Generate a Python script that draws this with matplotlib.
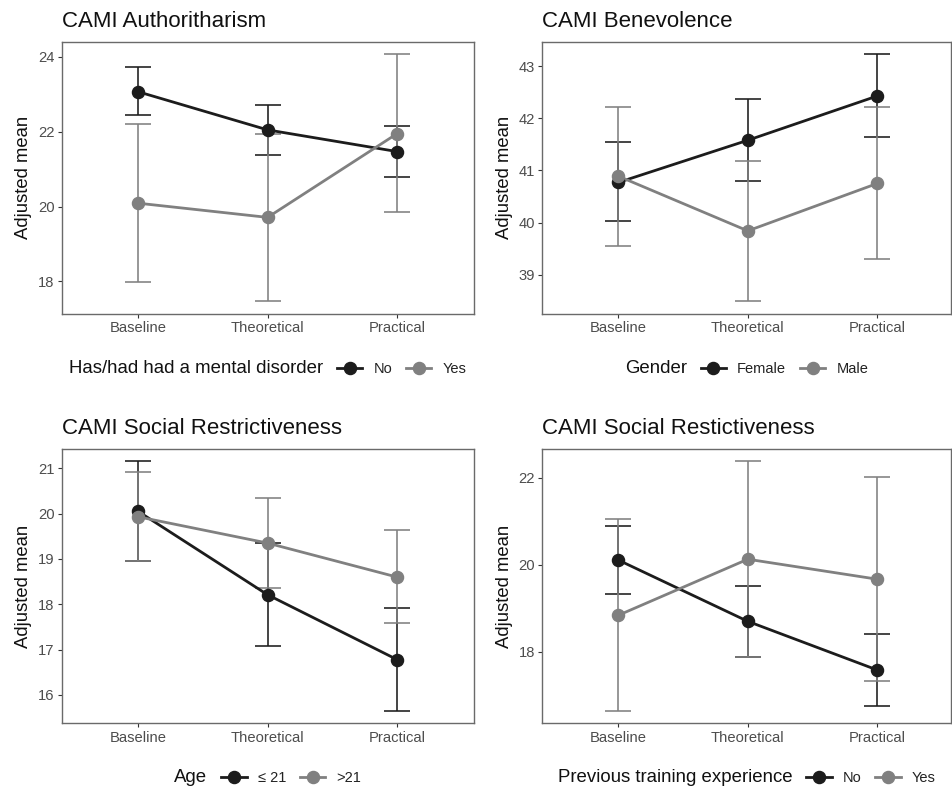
import matplotlib
matplotlib.use("Agg")
import matplotlib.pyplot as plt
from matplotlib.lines import Line2D
import numpy as np

plt.rcParams['font.family'] = ['Liberation Sans', 'DejaVu Sans']

# ---------------- data ----------------
phases = ["Baseline", "Theoretical", "Practical"]

# Panel 1: CAMI Authoritharism by mental disorder
p1_title = "CAMI Authoritharism"
p1_legend_title = "Has/had had a mental disorder"
p1_groups = ["No", "Yes"]
p1_no_mean = [23.07, 22.05, 21.47]
p1_no_lo = [22.44, 21.39, 20.79]
p1_no_hi = [23.73, 22.71, 22.15]
p1_yes_mean = [20.09, 19.71, 21.95]
p1_yes_lo = [17.98, 17.47, 19.85]
p1_yes_hi = [22.20, 21.94, 24.07]
p1_yticks = [18, 20, 22, 24]

# Panel 2: CAMI Benevolence by gender
p2_title = "CAMI Benevolence"
p2_legend_title = "Gender"
p2_groups = ["Female", "Male"]
p2_f_mean = [40.77, 41.58, 42.43]
p2_f_lo = [40.02, 40.79, 41.64]
p2_f_hi = [41.55, 42.37, 43.23]
p2_m_mean = [40.89, 39.84, 40.75]
p2_m_lo = [39.55, 38.49, 39.30]
p2_m_hi = [42.22, 41.18, 42.21]
p2_yticks = [39, 40, 41, 42, 43]

# Panel 3: CAMI Social Restrictiveness by age
p3_title = "CAMI Social Restrictiveness"
p3_legend_title = "Age"
p3_groups = ["\u2264 21", ">21"]
p3_le_mean = [20.05, 18.21, 16.78]
p3_le_lo = [18.96, 17.07, 15.65]
p3_le_hi = [21.15, 19.36, 17.92]
p3_gt_mean = [19.93, 19.35, 18.60]
p3_gt_lo = [18.96, 18.37, 17.58]
p3_gt_hi = [20.91, 20.34, 19.64]
p3_yticks = [16, 17, 18, 19, 20, 21]

# Panel 4: CAMI Social Restictiveness by previous training
p4_title = "CAMI Social Restictiveness"
p4_legend_title = "Previous training experience"
p4_groups = ["No", "Yes"]
p4_no_mean = [20.11, 18.70, 17.58]
p4_no_lo = [19.33, 17.89, 16.75]
p4_no_hi = [20.90, 19.52, 18.41]
p4_yes_mean = [18.84, 20.13, 19.67]
p4_yes_lo = [16.64, 17.89, 17.32]
p4_yes_hi = [21.05, 22.38, 22.03]
p4_yticks = [18, 20, 22]

# ---------------- style ----------------
COLORS = ["#1c1c1c", "#808080"]
LW = 2.0
ELW = 1.15
MS = 8.7
CAP = 9.4

W, H = 952, 790
fig = plt.figure(figsize=(W / 100, H / 100), dpi=100)


def rect(l, t, r, b):
    return [l / W, 1 - b / H, (r - l) / W, (b - t) / H]


def draw_panel(r, xlim, title, leg_title, groups, series, yticks, leg_y):
    ax = fig.add_axes(r)
    x = np.arange(1, len(phases) + 1)
    for (mean, lo, hi), c in zip(series, COLORS):
        mean = np.array(mean); lo = np.array(lo); hi = np.array(hi)
        ax.errorbar(x, mean, yerr=[mean - lo, hi - mean], fmt='none',
                    ecolor=c, elinewidth=ELW, capsize=CAP, capthick=ELW, zorder=2)
    for (mean, lo, hi), c in zip(series, COLORS):
        ax.plot(x, mean, color=c, lw=LW, zorder=3)
    for (mean, lo, hi), c in zip(series, COLORS):
        ax.plot(x, mean, 'o', color=c, ms=MS, zorder=4)
    ax.set_xlim(*xlim)
    ax.set_xticks(x)
    ax.set_xticklabels(phases)
    ax.set_yticks(yticks)
    ax.set_yticklabels([str(t) for t in yticks])
    ax.tick_params(axis='both', colors='#333333', labelcolor='#4d4d4d',
                   labelsize=10.6, length=3, width=0.8, pad=2.2)
    for s in ax.spines.values():
        s.set_color('#6a6a6a')
        s.set_linewidth(1.0)
    ax.set_title(title, loc='left', fontsize=16, pad=10.5, color='#111111')
    ax.set_ylabel("Adjusted mean", fontsize=13.3, color='#111111')
    ax.yaxis.set_label_coords(-0.072, 0.5)

    handles = [Line2D([], [], color=c, lw=LW, marker='o', ms=MS) for c in COLORS]
    leg = ax.legend(handles, groups, title=leg_title, loc='center',
                    bbox_to_anchor=(0.5, leg_y), ncol=len(groups), frameon=False,
                    fontsize=10.5, title_fontsize=13.4, handlelength=1.75,
                    handletextpad=0.75, columnspacing=0.95, borderaxespad=0,
                    borderpad=0)
    for t in leg.get_texts():
        t.set_color('#222222')
    leg.get_title().set_color('#111111')
    vp = leg._legend_box
    title_box, hp = vp.get_children()
    vp._children = [hp]
    hp._children = [title_box] + hp.get_children()
    return ax


draw_panel(rect(61.7, 42, 473.5, 313.5), (0.41, 3.59), p1_title, p1_legend_title, p1_groups,
           [(p1_no_mean, p1_no_lo, p1_no_hi), (p1_yes_mean, p1_yes_lo, p1_yes_hi)],
           p1_yticks, -0.204)
draw_panel(rect(542, 42, 951, 313.5), (0.41, 3.57), p2_title, p2_legend_title, p2_groups,
           [(p2_f_mean, p2_f_lo, p2_f_hi), (p2_m_mean, p2_m_lo, p2_m_hi)],
           p2_yticks, -0.204)
draw_panel(rect(61.7, 449, 473.5, 723.3), (0.41, 3.59), p3_title, p3_legend_title, p3_groups,
           [(p3_le_mean, p3_le_lo, p3_le_hi), (p3_gt_mean, p3_gt_lo, p3_gt_hi)],
           p3_yticks, -0.198)
draw_panel(rect(542, 449, 951, 723.3), (0.41, 3.57), p4_title, p4_legend_title, p4_groups,
           [(p4_no_mean, p4_no_lo, p4_no_hi), (p4_yes_mean, p4_yes_lo, p4_yes_hi)],
           p4_yticks, -0.198)

fig.savefig("out.png", dpi=100, facecolor='white')
